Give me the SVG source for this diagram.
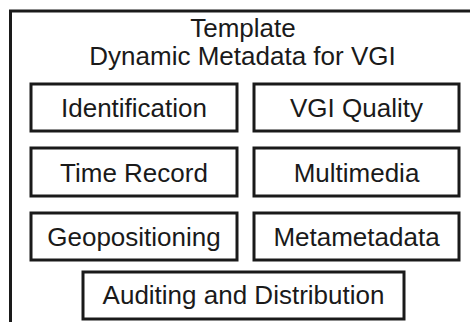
<svg xmlns="http://www.w3.org/2000/svg" width="470" height="322" viewBox="0 0 470 322">
<style>
.box{fill:#fff;stroke:#1a1a1a;stroke-width:3}
.frame{fill:none;stroke:#1a1a1a;stroke-width:3}
text{font-family:"Liberation Sans",Arial,sans-serif;font-size:26px;fill:#1a1a1a;text-anchor:middle}
</style>
<rect width="470" height="322" fill="#fff"/>
<g id="template">
<path class="frame" d="M10.5 322 V11 H470"/>
<text x="243" y="37">Template</text>
<text x="242.5" y="65">Dynamic Metadata for VGI</text>
</g>
<g id="identification"><rect class="box" x="31" y="84" width="206" height="47"/><text x="134" y="117">Identification</text></g>
<g id="vgi-quality"><rect class="box" x="254" y="84" width="205" height="47"/><text x="356.5" y="117">VGI Quality</text></g>
<g id="time-record"><rect class="box" x="31" y="148" width="206" height="48"/><text x="134" y="181.5">Time Record</text></g>
<g id="multimedia"><rect class="box" x="254" y="148" width="205" height="48"/><text x="356.5" y="181.5">Multimedia</text></g>
<g id="geopositioning"><rect class="box" x="31" y="213" width="206" height="47"/><text x="134" y="245.5">Geopositioning</text></g>
<g id="metametadata"><rect class="box" x="254" y="213" width="205" height="47"/><text x="356.5" y="245.5">Metametadata</text></g>
<g id="auditing"><rect class="box" x="83" y="272" width="321" height="47"/><text x="243.5" y="304">Auditing and Distribution</text></g>
<g id="connectors"></g>
</svg>
